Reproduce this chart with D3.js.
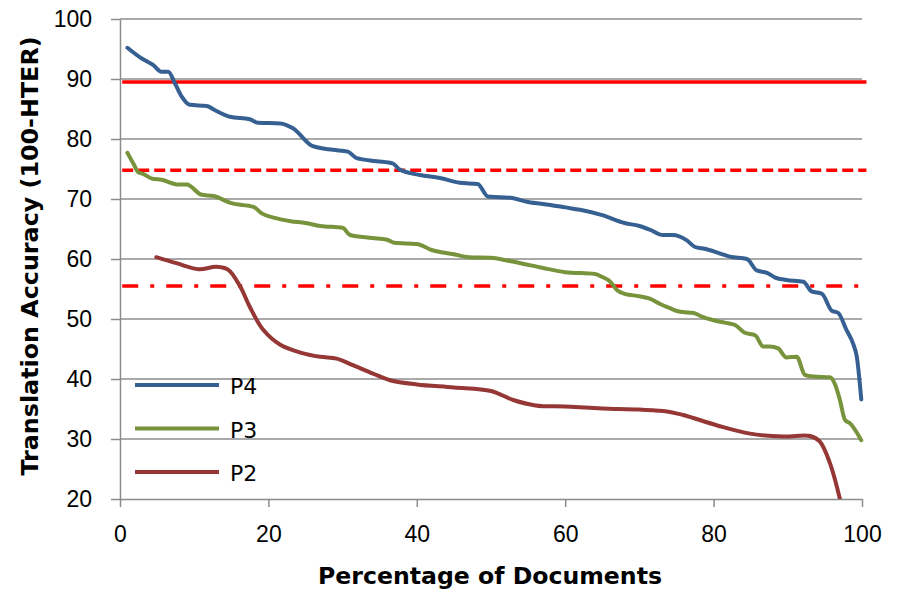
<!DOCTYPE html>
<html>
<head>
<meta charset="utf-8">
<script src="https://cdn.jsdelivr.net/npm/d3@7"></script>
<style>
  body { margin: 0; background: #fff; }
  svg { display: block; font-family: 'DejaVu Sans', Verdana, sans-serif; }
</style>
</head>
<body>
<svg id="chart"></svg>
<script>
// values: [percentage of documents, 100-HTER]
const p4 = [[1, 95.2], [2.7, 93.6], [4.5, 92.3], [5.6, 91.2], [6.5, 91.2], [7.4, 89.3], [8.3, 87.1], [9.4, 85.7],
  [11.7, 85.5], [12.8, 84.8], [14.8, 83.7], [17.5, 83.3], [18.6, 82.7], [21.6, 82.6], [23.3, 81.8], [26, 78.8],
  [28.7, 78.2], [30.7, 77.9], [31.9, 76.8], [34.6, 76.3], [36.8, 75.9], [37.7, 74.9], [40.4, 74], [43.1, 73.5],
  [45.8, 72.7], [48.2, 72.5], [49.6, 70.4], [52.6, 70.2], [55, 69.5], [58, 69], [60, 68.6], [62, 68.2], [65, 67.3],
  [68, 66], [70, 65.5], [71.4, 64.9], [73.2, 64], [74.5, 64], [76.4, 63.1], [77.5, 62], [78.8, 61.7], [80.9, 60.9],
  [82.2, 60.4], [84.5, 60], [85.8, 58.1], [87.2, 57.7], [88.3, 56.9], [89.8, 56.5], [92.1, 56.2], [93.2, 54.6],
  [94.6, 54.2], [95.9, 51.4], [96.8, 51], [97.9, 48.2], [98.8, 45.9], [99.3, 43.7], [99.9, 36.6]];
const p3 = [[1, 77.7], [1.8, 75.9], [2.5, 74.4], [3.1, 74.2], [4.3, 73.4], [5.6, 73.2], [7.9, 72.4], [9, 72.4],
  [11, 70.7], [12.6, 70.5], [15, 69.3], [18, 68.7], [19, 67.7], [21, 66.8], [23, 66.3], [25, 66], [27, 65.5],
  [30, 65.2], [31, 64], [34, 63.5], [36, 63.2], [37, 62.7], [40, 62.5], [42, 61.5], [45, 60.8], [47, 60.3],
  [50, 60.2], [52, 59.8], [54, 59.3], [57, 58.5], [60, 57.8], [64, 57.5], [65, 57], [66, 56.3], [67, 54.8],
  [68, 54.2], [70, 53.8], [71.4, 53.4], [72.8, 52.5], [74.1, 51.8], [75.5, 51.2], [77.3, 51], [78.4, 50.4],
  [80, 49.8], [81.5, 49.4], [82.9, 49], [84.2, 47.7], [85.6, 47.3], [86.7, 45.4], [87.6, 45.4], [88.7, 45.1],
  [89.8, 43.6], [91.2, 43.7], [92.3, 40.7], [93.4, 40.4], [95.7, 40.3], [96.4, 39], [97, 36.6], [97.7, 33.2],
  [98.4, 32.6], [99.9, 29.8]];
const p2 = [[4.9, 60.3], [7.6, 59.3], [10.6, 58.3], [13, 58.7], [14.6, 58.2], [16.2, 55.4], [17.5, 52], [19.3, 48.2],
  [21.6, 45.7], [24.3, 44.4], [27, 43.7], [29.2, 43.4], [31.4, 42.3], [34.1, 40.9], [36.4, 39.8], [40, 39.1],
  [45, 38.6], [50, 38], [53, 36.5], [56, 35.6], [60, 35.4], [65, 35.1], [70, 34.9], [73.7, 34.6], [75.9, 34],
  [80.4, 32.3], [84.9, 30.9], [89.4, 30.4], [93, 30.5], [94.3, 29.6], [95.7, 25.9], [97.1, 19.6]];

const seriesNames = ['P4', 'P3', 'P2'];
const seriesColors = ['#376092', '#77933C', '#953735'];
const refValues = [89.5, 74.8, 55.5];
const refDash = [null, '11,5', '16,12,4,12'];
const xTicks = [0, 20, 40, 60, 80, 100];
const yTicks = [20, 30, 40, 50, 60, 70, 80, 90, 100];

const width = 899, height = 590;
const marginLeft = 120, marginRight = 37, marginTop = 19, marginBottom = 91;

const svg = d3.select('#chart').attr('width', width).attr('height', height);

const x = d3.scaleLinear([0, 100], [marginLeft, width - marginRight]);
const y = d3.scaleLinear([20, 100], [height - marginBottom, marginTop]);

// grid
svg.append('g')
  .selectAll('line')
  .data(yTicks.slice(1))
  .join('line')
  .attr('x1', marginLeft).attr('x2', x(100))
  .attr('y1', (d) => y(d)).attr('y2', (d) => y(d))
  .attr('stroke', '#8c8c8c').attr('stroke-width', 1.5);

// y axis
const yAxis = svg.append('g')
  .attr('transform', `translate(${marginLeft},0)`)
  .call(d3.axisLeft(y).tickValues(yTicks).tickSize(9).tickSizeOuter(0).tickPadding(19));
// x axis
const xAxis = svg.append('g')
  .attr('transform', `translate(0,${y(20)})`)
  .call(d3.axisBottom(x).tickValues(xTicks).tickSize(8).tickSizeOuter(0).tickPadding(19));
[xAxis, yAxis].forEach((g) => {
  g.select('.domain').attr('stroke', '#8c8c8c').attr('stroke-width', 1.5);
  g.selectAll('.tick line').attr('stroke', '#8c8c8c').attr('stroke-width', 1.5);
  g.selectAll('.tick text').attr('fill', '#000').style('font-size', '23px');
});

svg.append('defs').append('clipPath').attr('id', 'plot')
  .append('rect')
  .attr('x', marginLeft).attr('y', marginTop - 5)
  .attr('width', width - marginLeft).attr('height', y(20) - marginTop + 5);

// reference lines
svg.append('g')
  .selectAll('line')
  .data(refValues)
  .join('line')
  .attr('x1', x(0.3)).attr('x2', x(100.6))
  .attr('y1', (d) => y(d)).attr('y2', (d) => y(d))
  .attr('stroke', '#ff0000').attr('stroke-width', 3.5)
  .attr('stroke-dasharray', (_, i) => refDash[i]);

// series
const line = d3.line().curve(d3.curveMonotoneX).x((d) => x(d[0])).y((d) => y(d[1]));
const smooth = d3.line().curve(d3.curveCatmullRom.alpha(0.5)).x((d) => x(d[0])).y((d) => y(d[1]));
const lines = svg.append('g').attr('clip-path', 'url(#plot)');
[p4, p3, p2].forEach((s, i) => {
  lines.append('path')
    .attr('fill', 'none')
    .attr('stroke', seriesColors[i])
    .attr('stroke-width', 4)
    .attr('stroke-linejoin', 'round')
    .attr('stroke-linecap', 'round')
    .attr('d', i === 2 ? smooth(s) : line(s));
});

// legend
const legend = svg.append('g').attr('transform', 'translate(135,385)');
seriesNames.forEach((name, i) => {
  const g = legend.append('g').attr('transform', `translate(0,${i * 43.5})`);
  g.append('line').attr('x1', 0).attr('x2', 84).attr('stroke', seriesColors[i]).attr('stroke-width', 4);
  g.append('text').attr('x', 95).attr('y', 9).style('font-size', '22px').text(name);
});

// titles
svg.append('text')
  .attr('x', 490).attr('y', 584)
  .attr('text-anchor', 'middle')
  .style('font-size', '23.6px').style('font-weight', 'bold')
  .text('Percentage of Documents');
svg.append('text')
  .attr('transform', `translate(38,256) rotate(-90)`)
  .attr('text-anchor', 'middle')
  .style('font-size', '23.8px').style('font-weight', 'bold')
  .text('Translation Accuracy (100-HTER)');
</script>
</body>
</html>
